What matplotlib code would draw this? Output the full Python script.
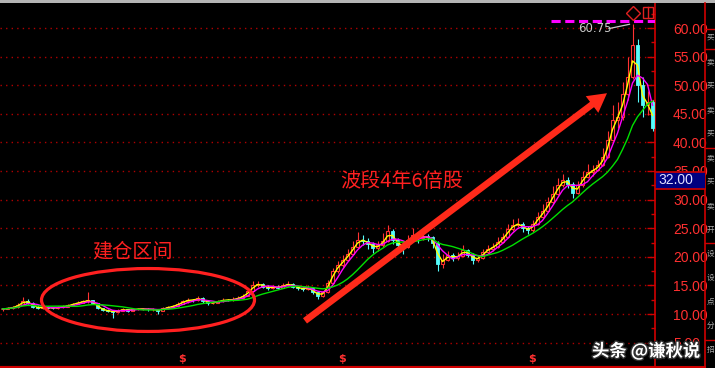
import numpy as np
import pandas as pd
import matplotlib
matplotlib.use('Agg')
import matplotlib.pyplot as plt
import matplotlib.patheffects as pe
from matplotlib.patches import Ellipse, Rectangle
from matplotlib.lines import Line2D

# K线数据 (每根约5个像素)
closes = [10.9, 11.0, 11.2, 11.6, 12.3, 12.0, 11.3, 11.0, 11.2, 11.1,
          11.0, 11.2, 11.3, 11.5, 11.8, 12.0, 12.2, 12.4, 11.9, 11.0,
          10.7, 10.5, 10.4, 10.6, 10.8, 10.6, 10.8, 10.9, 10.9, 10.8,
          10.8, 10.6, 11.0, 11.2, 11.4, 11.8, 12.2, 12.5, 12.4, 12.8,
          12.3, 11.9, 12.0, 12.2, 12.5, 12.4, 12.6, 12.8, 13.2, 14.0,
          15.0, 15.3, 14.8, 14.5, 14.8, 14.6, 15.0, 15.3, 14.8, 14.5,
          14.4, 14.6, 13.8, 13.2, 13.8, 15.5, 17.5, 18.5, 19.5, 20.5,
          21.8, 23.0, 22.8, 22.3, 21.5, 22.0, 22.8, 24.5, 23.0, 22.0,
          21.8, 23.0, 23.8, 23.2, 23.6, 23.4, 22.5, 18.8, 19.5, 20.3,
          19.8, 20.2, 21.2, 20.4, 19.5, 19.8, 20.8, 21.4, 21.8, 22.6,
          23.5, 24.8, 25.6, 25.8, 25.0, 24.6, 25.8, 27.0, 28.0, 29.5,
          31.0, 32.5, 33.5, 32.8, 31.2, 32.5, 34.0, 34.8, 35.2, 36.0,
          37.5, 40.5, 44.0, 44.5, 48.5, 51.5, 57.0, 50.0, 46.5, 47.0,
          42.5]
highs = [11.1, 11.2, 11.4, 11.9, 12.9, 12.6, 12.1, 11.5, 11.4, 11.4,
         11.3, 11.4, 11.5, 11.7, 12.0, 12.3, 12.5, 13.8, 12.5, 12.0,
         11.1, 10.9, 10.7, 10.8, 11.0, 10.9, 11.0, 11.1, 11.1, 11.0,
         11.0, 10.9, 11.3, 11.4, 11.6, 12.1, 12.5, 12.8, 12.7, 13.1,
         12.9, 12.4, 12.2, 12.5, 12.8, 12.7, 12.9, 13.1, 13.5, 14.4,
         15.8, 15.8, 15.5, 15.0, 15.1, 15.0, 15.4, 15.7, 15.4, 14.9,
         14.8, 15.0, 14.7, 13.9, 14.1, 15.9, 18.0, 19.2, 20.3, 21.3,
         22.8, 24.3, 23.8, 23.2, 22.6, 22.8, 24.2, 25.6, 24.8, 23.3,
         22.6, 23.8, 25.0, 24.2, 24.8, 24.0, 23.6, 22.7, 20.5, 21.0,
         20.6, 20.8, 22.0, 21.4, 20.6, 20.4, 21.3, 22.0, 22.5, 23.4,
         24.2, 25.8, 26.6, 26.8, 26.0, 25.3, 26.4, 27.8, 29.2, 30.5,
         32.3, 33.8, 34.5, 34.0, 33.0, 33.2, 35.0, 36.3, 36.0, 37.0,
         39.0, 42.0, 46.5, 47.0, 50.5, 55.0, 60.75, 58.0, 51.5, 49.0,
         47.5]
lows = [10.6, 10.8, 10.9, 11.1, 11.5, 11.8, 11.1, 10.8, 10.9, 10.9,
        10.8, 10.9, 11.1, 11.2, 11.4, 11.7, 11.9, 12.0, 11.7, 10.8,
        10.5, 10.3, 9.3, 10.2, 10.5, 10.4, 10.5, 10.7, 10.7, 10.6,
        10.6, 10.0, 10.5, 10.9, 11.1, 11.3, 11.7, 12.0, 12.1, 12.3,
        12.0, 11.6, 11.7, 11.9, 12.1, 12.2, 12.3, 12.5, 12.7, 13.1,
        13.9, 14.8, 14.5, 14.2, 14.3, 14.3, 14.5, 14.9, 14.5, 14.2,
        14.1, 14.2, 13.5, 12.6, 13.0, 13.7, 15.3, 17.2, 18.2, 19.2,
        20.3, 21.5, 22.0, 21.3, 20.6, 21.0, 21.8, 22.6, 22.3, 20.8,
        20.5, 21.5, 22.8, 22.5, 22.9, 22.8, 21.5, 17.6, 18.0, 19.2,
        19.3, 19.5, 20.0, 20.0, 18.8, 19.1, 19.6, 20.6, 21.1, 21.6,
        22.4, 23.3, 24.5, 25.2, 24.3, 24.0, 24.4, 25.6, 26.8, 27.8,
        29.2, 30.8, 32.2, 32.0, 30.2, 30.9, 32.2, 33.8, 34.2, 35.0,
        35.8, 37.2, 40.2, 42.5, 44.0, 47.5, 51.0, 47.0, 44.5, 44.8,
        42.0]
first_open = 10.8
div_bars = [36, 68, 106]          # 除权标记 $
ma_windows = [2, 4, 10]
ma_colors = ['#FFFF00', '#FF00FF', '#00E000']
last_price = 32.00
yticks = [5, 10, 15, 20, 25, 30, 35, 40, 45, 50, 55, 60]
side_chars = ['买', '卖', '买', '卖', '买', '卖', '买', '卖', '开', '设', '设', '点', '分', '招']

W, H = 715, 368
RED = '#FF3030'
UP = '#FF3232'
DOWN = '#54FCFC'

c = np.array(closes)
o = np.array([first_open] + closes[:-1])
hi = np.array(highs)
lo = np.array(lows)
x = np.arange(len(c))

fig = plt.figure(figsize=(W / 100, H / 100), dpi=100, facecolor='black')
ax = fig.add_axes([0, 1 / H, 655 / W, 367 / H])
ax.set_facecolor('black')
ax.set_xlim(-0.5, len(c) - 0.5)
ax.set_ylim(60 - 339 / 5.72, 60 + 28 / 5.72)

# grid
for v in yticks:
    ax.axhline(v, color='#B00000', lw=1.0, ls=(0, (1, 3)), zorder=1)

# candles
up = c >= o
ax.vlines(x[up], lo[up], hi[up], color=UP, lw=0.8, zorder=3)
ax.vlines(x[~up], lo[~up], hi[~up], color=DOWN, lw=0.8, zorder=3)
ax.bar(x[up], np.maximum(c[up] - o[up], 0.05), bottom=o[up], width=0.6,
       facecolor='black', edgecolor=UP, lw=0.8, zorder=4)
ax.bar(x[~up], o[~up] - c[~up], bottom=c[~up], width=0.6,
       facecolor=DOWN, edgecolor=DOWN, lw=0.6, zorder=4)

# moving averages
s = pd.Series(c)
for w, col in zip(ma_windows, ma_colors):
    ax.plot(x, s.rolling(w, min_periods=1).mean(), color=col, lw=1.0, zorder=5)

# peak marker
pk = int(np.argmax(hi))
ax.hlines(hi[pk] + 0.5, pk - 16.3, len(c) - 0.5, colors='#FF00FF', lw=2.2,
          linestyles=(0, (3, 1.5)), zorder=6)
ax.text(pk - 10.8, hi[pk] - 0.75, f'{hi[pk]:.2f}', color='#C8C8C8', fontsize=8.5,
        ha='left', va='center', family='DejaVu Sans', zorder=7)
ax.plot([pk - 4.7, pk - 0.6], [hi[pk] - 0.85, hi[pk] - 0.1], color='#C8C8C8', lw=0.9, zorder=7)

# dividend markers
for b in div_bars:
    ax.text(b, 1.2, '$', color=RED, fontsize=8, fontweight='bold', ha='center', va='bottom', zorder=6)

# annotations
ax.add_patch(Ellipse((29.1, 12.45), 42.6, 11.0, fill=False, edgecolor='#FF2020', lw=2.3, zorder=8))
ax.annotate('', xy=(120.9, 48.6), xytext=(60.5, 8.8),
            arrowprops=dict(arrowstyle='simple,head_length=0.9,head_width=1.0,tail_width=0.32',
                            mutation_scale=15, color='#FF2A1A', lw=0, shrinkA=0, shrinkB=0),
            zorder=8)
ax.text(17.9, 20.8, '建仓区间', color='#FF2020', fontsize=14.5, ha='left', va='center',
        family='Noto Sans CJK SC', zorder=8)
ax.text(67.5, 33.2, '波段4年6倍股', color='#FF2020', fontsize=14.5, ha='left', va='center',
        family='Noto Sans CJK SC', zorder=8)

# axes styling
for side in ['left', 'top']:
    ax.spines[side].set_visible(False)
ax.spines['right'].set_color('#D00000')
ax.spines['bottom'].set_color('#D00000')
ax.spines['right'].set_linewidth(1.2)
ax.spines['bottom'].set_linewidth(1.5)
ax.set_xticks([])
ax.yaxis.tick_right()
ax.set_yticks(yticks)
ax.set_yticklabels([f'{v:.2f}' for v in yticks])
ax.set_yticks([v + 2.5 for v in [2.5] + yticks[:-1]] + [62.5], minor=True)
ax.tick_params(axis='y', which='major', direction='in', length=6, width=1, color='#D00000',
               labelcolor=RED, labelsize=10, pad=13)
ax.tick_params(axis='y', which='minor', direction='in', length=3, width=1, color='#D00000')
for t in ax.get_yticklabels():
    t.set_family('Liberation Sans')

# top strip and right panel
fig.add_artist(Rectangle((0, 1 - 3 / H), 1, 3 / H, transform=fig.transFigure,
                         facecolor='#B4B4B4', edgecolor='none'))
fig.add_artist(Line2D([705 / W, 705 / W], [0, 1 - 3 / H], color='#D00000', lw=1.2))
fig.add_artist(Line2D([0, 705 / W], [1 / H, 1 / H], color='#D00000', lw=1.5))
for yy in [29, 49, 148, 243, 340]:
    fig.add_artist(Line2D([705 / W, 1], [1 - yy / H, 1 - yy / H], color='#D00000', lw=1.0))
for k, ch in enumerate(side_chars):
    fig.text(706.5 / W, 1 - (38 + k * 24) / H, ch, color='#A8A8A8', fontsize=5.5,
             family='Noto Sans CJK SC', ha='left', va='center')

# window icons
fig.add_artist(Line2D([633 / W], [1 - 13 / H], marker='D', markersize=7, markerfacecolor='none',
                      markeredgecolor='#E02020', markeredgewidth=1.0, transform=fig.transFigure))
fig.add_artist(Rectangle((643 / W, 1 - 18 / H), 10 / W, 11 / H, transform=fig.transFigure,
                         facecolor='none', edgecolor='#E02020', lw=1.0))
fig.add_artist(Line2D([648 / W, 648 / W], [1 - 18 / H, 1 - 7 / H], color='#E02020', lw=1.0))

# last price box
box = Rectangle((656 / W, 1 - 189 / H), 49 / W, 17 / H, transform=fig.transFigure,
                facecolor='#000080', edgecolor='none', zorder=10)
fig.add_artist(box)
for yy in [172, 189]:
    fig.add_artist(Line2D([656 / W, 705 / W], [1 - yy / H, 1 - yy / H], color='#D00000', lw=1.2, zorder=11))
fig.text(658 / W, 1 - 180.5 / H, f'{last_price:.2f}', color='#E0E0FF', fontsize=10,
         family='Liberation Sans', ha='left', va='center', zorder=12)

# watermark
fig.text(592 / W, 1 - 351 / H, '头条 @谦秋说', color='white', fontsize=12.5, fontweight='bold',
         family='Noto Sans CJK SC', ha='left', va='center', zorder=12,
         path_effects=[pe.withStroke(linewidth=2, foreground='#303030')])

plt.savefig('out.png', dpi=100, facecolor='black')
